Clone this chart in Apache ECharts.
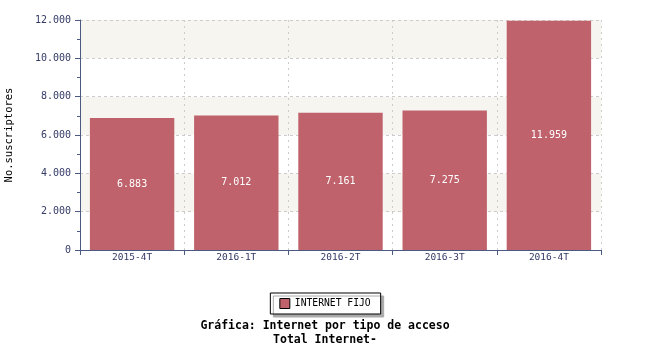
<!DOCTYPE html>
<html><head><meta charset="utf-8">
<script src="https://cdn.jsdelivr.net/npm/echarts@6/dist/echarts.min.js"></script>
<style>html,body{margin:0;padding:0;background:#fff}#c{width:650px;height:350px}</style>
</head><body><div id="c"></div>
<script>
const categories = ['2015-4T','2016-1T','2016-2T','2016-3T','2016-4T'];
const values = [6883, 7012, 7161, 7275, 11959];
const seriesName = 'INTERNET FIJO';
const yAxisName = 'No.suscriptores';
const titleLines = ['Gráfica: Internet por tipo de acceso', 'Total Internet-'];

const fmt = v => String(Math.round(v)).replace(/\B(?=(\d{3})+(?!\d))/g, '.');
const font = 'DejaVu Sans Mono';
const chart = echarts.init(document.getElementById('c'));
chart.setOption({
  animation: false,
  textStyle: {fontFamily: font},
  title: {
    text: titleLines[0] + '\n' + titleLines[1],
    left: 'center', top: 314,
    textStyle: {fontFamily: font, fontSize: 11.5, fontWeight: 'bold', color: '#000', lineHeight: 14, align: 'center'}
  },
  legend: {
    data: [seriesName], top: 293, left: 'center',
    icon: 'rect',
    backgroundColor: '#fff', borderColor: '#000', borderWidth: 1,
    padding: [5, 10, 5, 9],
    shadowColor: '#aaa', shadowOffsetX: 3, shadowOffsetY: 3, shadowBlur: 0,
    itemWidth: 10, itemHeight: 10, itemGap: 6,
    textStyle: {fontFamily: font, fontSize: 9.7, color: '#000'},
    itemStyle: {borderColor: '#000', borderWidth: 1}
  },
  grid: {left: 80, right: 49, top: 20, bottom: 100, containLabel: false, outerBoundsMode: 'none'},
  xAxis: {
    type: 'category', data: categories,
    axisLine: {lineStyle: {color: '#4a5a80', width: 1}},
    axisTick: {show: true, length: 5, lineStyle: {color: '#4a5a80'}},
    axisLabel: {color: '#333a66', fontSize: 9.5, fontFamily: font, margin: 3},
    splitLine: {show: true, interval: 0, lineStyle: {color: '#ccc', type: [2, 4]}}
  },
  yAxis: {
    type: 'value', min: 0, max: 12000, interval: 2000,
    name: yAxisName, nameLocation: 'middle', nameGap: 65, nameRotate: 90,
    nameTextStyle: {fontFamily: font, fontSize: 10.5, color: '#000'},
    axisLine: {show: true, lineStyle: {color: '#4a5a80'}},
    axisTick: {show: true, length: 5, lineStyle: {color: '#4a5a80'}},
    minorTick: {show: true, splitNumber: 2, length: 3, lineStyle: {color: '#4a5a80'}},
    axisLabel: {color: '#333a66', fontSize: 10, fontFamily: font, formatter: fmt, margin: 9},
    splitLine: {show: true, lineStyle: {color: '#ccc', type: [3, 3]}},
    splitArea: {show: true, areaStyle: {color: ['#ffffff', '#f6f5f0']}}
  },
  series: [{
    name: seriesName, type: 'bar', data: values,
    barCategoryGap: '19%',
    itemStyle: {color: '#bf626b'},
    label: {show: true, position: 'inside', color: '#fff', fontSize: 10, fontFamily: font, formatter: p => fmt(p.value)}
  }]
});
</script></body></html>
